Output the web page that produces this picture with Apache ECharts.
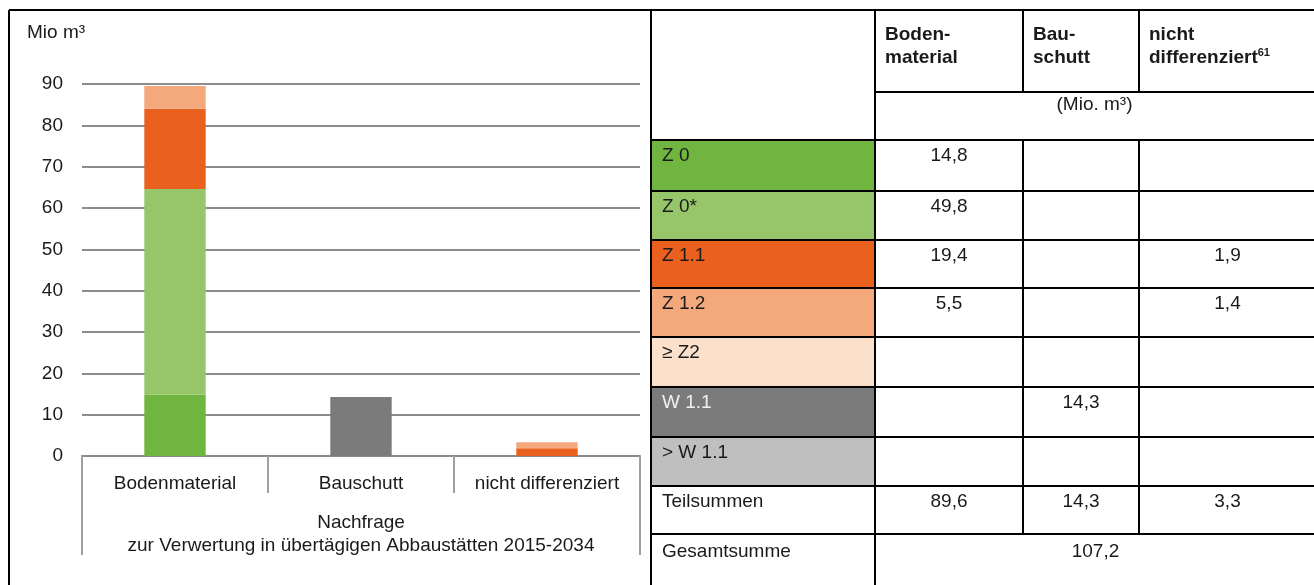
<!DOCTYPE html>
<html><head><meta charset="utf-8">
<script src="https://cdn.jsdelivr.net/npm/echarts@6/dist/echarts.min.js"></script>
<style>html,body{margin:0;padding:0;background:#fff}#c{width:1314px;height:585px}</style>
</head><body><div id="c"></div>
<script>
// ---- data ----
const categories = ['Bodenmaterial', 'Bauschutt', 'nicht differenziert'];
const groupLabel = 'Nachfrage\nzur Verwertung in übertägigen Abbaustätten 2015-2034';
const classes = ['Z 0', 'Z 0*', 'Z 1.1', 'Z 1.2', '≥ Z2', 'W 1.1', '> W 1.1'];
const boden = [14.8, 49.8, 19.4, 5.5, null, null, null];
const bauschutt = [null, null, null, null, null, 14.3, null];
const nichtDiff = [null, null, 1.9, 1.4, null, null, null];
const subtotals = [89.6, 14.3, 3.3];
const grandTotal = 107.2;
const yTicks = [0, 10, 20, 30, 40, 50, 60, 70, 80, 90];
const headers = [['Boden-', 'material'], ['Bau-', 'schutt'], ['nicht', 'differenziert']];
const footnote = '61';
const unitLabel = '(Mio. m³)';
const axisUnit = 'Mio m³';

// ---- styles ----
const colors = ['#70B53F', '#97C56A', '#EA601E', '#F3A97B', '#FBE0CC', '#7B7B7B', '#BFBFBF'];
const labelColors = ['#1a1a1a', '#1a1a1a', '#1a1a1a', '#1a1a1a', '#1a1a1a', '#f0f0f0', '#1a1a1a'];
const FONT = "'Liberation Sans', Arial, sans-serif";
const TXT = '#1a1a1a';
const FS = 19;

const fmt = v => v == null ? '' : v.toFixed(1).replace('.', ',');

// table layout
const colX = [651, 875, 1023, 1139, 1316];
const rowY = [140, 191, 240, 288, 337, 387, 437, 486, 534, 590];
const headTop = 10, unitTop = 92;

const g = [];
const line = (x1, y1, x2, y2, w) => g.push({type: 'line', shape: {x1, y1, x2, y2}, style: {stroke: '#000', lineWidth: w || 2}, z: 10});
const text = (x, y, t, opt) => g.push(Object.assign({type: 'text', x, y, style: Object.assign({text: t, fill: TXT, font: FS + 'px ' + FONT, textVerticalAlign: 'middle'}, opt || {}), z: 20}));

// fills
classes.forEach((c, i) => {
  g.push({type: 'rect', shape: {x: colX[0], y: rowY[i], width: colX[1] - colX[0], height: rowY[i + 1] - rowY[i]}, style: {fill: colors[i]}, z: 5});
});
// lines
line(9, headTop, 1316, headTop);
line(9, headTop, 9, 590);
line(colX[0], headTop, colX[0], 590);
line(colX[1], headTop, colX[1], 590);
[2, 3].forEach(k => { line(colX[k], headTop, colX[k], unitTop); line(colX[k], rowY[0], colX[k], rowY[8]); });
line(colX[1], unitTop, 1316, unitTop);
rowY.slice(0, 9).forEach(y => line(colX[0], y, 1316, y));

// header text
headers.forEach((h, k) => {
  const x = colX[k + 1] + 10;
  text(x, 35, h[0], {font: 'bold ' + FS + 'px ' + FONT});
  if (k === 2) {
    g.push({type: 'text', x, y: 58, z: 20, style: {text: '{b|' + h[1] + '}{s|' + footnote + '}', textVerticalAlign: 'middle',
      rich: {b: {font: 'bold ' + FS + 'px ' + FONT, fill: TXT, lineHeight: 22}, s: {font: 'bold 11px ' + FONT, fill: TXT, verticalAlign: 'top', lineHeight: 22, padding: [0, 0, 10, 0]}}}});
  } else text(x, 58, h[1], {font: 'bold ' + FS + 'px ' + FONT});
});
text((colX[1] + 1316) / 2 - 1, 105, unitLabel, {textAlign: 'center'});

// rows
const cols = [boden, bauschutt, nichtDiff];
classes.forEach((c, i) => {
  text(colX[0] + 11, rowY[i] + 16, c, {fill: labelColors[i]});
  cols.forEach((arr, k) => {
    if (arr[i] != null) text((colX[k + 1] + colX[k + 2]) / 2, rowY[i] + 16, fmt(arr[i]), {textAlign: 'center'});
  });
});
text(colX[0] + 11, rowY[7] + 16, 'Teilsummen');
subtotals.forEach((v, k) => text((colX[k + 1] + colX[k + 2]) / 2, rowY[7] + 16, fmt(v), {textAlign: 'center'}));
text(colX[0] + 11, rowY[8] + 18, 'Gesamtsumme');
text((colX[1] + 1316) / 2, rowY[8] + 18, fmt(grandTotal), {textAlign: 'center'});

// y unit
text(27, 33, axisUnit);

const series = classes.map((c, i) => ({
  name: c, type: 'bar', stack: 's', barWidth: '33%',
  itemStyle: {color: colors[i]},
  data: [boden[i], bauschutt[i], nichtDiff[i]]
}));

const chart = echarts.init(document.getElementById('c'), null, {renderer: 'canvas'});
chart.setOption({
  animation: false,
  textStyle: {fontFamily: FONT},
  grid: {left: 82, right: 674, top: 84, bottom: 129, containLabel: false},
  xAxis: [{
    type: 'category', data: categories, position: 'bottom',
    axisLine: {lineStyle: {color: '#8c8c8c', width: 2}},
    axisTick: {show: true, interval: 0, length: 37, lineStyle: {color: '#a0a0a0', width: 2}},
    axisLabel: {interval: 0, margin: 18, fontSize: FS, color: TXT, fontFamily: FONT}
  }, {
    type: 'category', data: [groupLabel], position: 'bottom', offset: 37,
    axisLine: {show: false},
    axisTick: {show: true, interval: 0, length: 62, lineStyle: {color: '#a0a0a0', width: 2}},
    axisLabel: {interval: 0, margin: 18, fontSize: FS, lineHeight: 23, color: TXT, fontFamily: FONT}
  }],
  yAxis: {
    type: 'value', min: yTicks[0], max: yTicks[yTicks.length - 1], interval: 10,
    axisLine: {show: false}, axisTick: {show: false},
    axisLabel: {margin: 19, fontSize: FS, color: TXT, fontFamily: FONT},
    splitLine: {lineStyle: {color: '#8c8c8c', width: 2}}
  },
  series: series,
  graphic: g
});
</script></body></html>
